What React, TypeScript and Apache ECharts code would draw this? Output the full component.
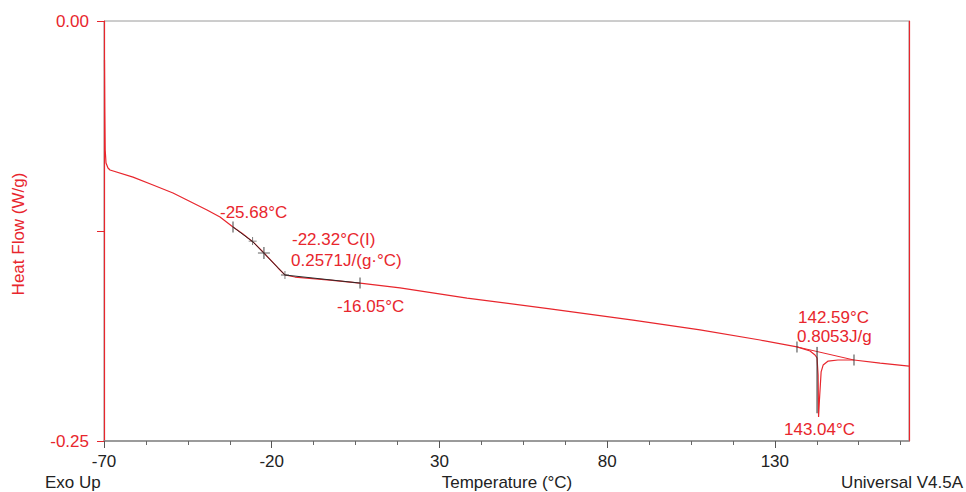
import React, { useEffect, useRef } from "react";
import * as echarts from "echarts";

// Temperature (°C) and heat flow (W/g)
const temperature = [
  -69.85, -69.76, -69.64, -69.4, -68.81, -68.21, -61.35, -55.39, -49.43, -45.25,
  -39.29, -35.41, -31.54, -28.56, -25.58, -22.0, -18.12, -16.03, -13.05, -2.62,
  6.33, 18.25, 38.23, 62.97, 87.72, 107.7, 125.6, 136.6, 140.5, 141.99,
  142.59, 142.9, 143.04, 143.3, 143.8, 144.4, 145.9, 148.8, 153.6, 161.4, 170.0,
];
const heatFlow = [
  -0.0232, -0.053, -0.0768, -0.0845, -0.0875, -0.0887, -0.0929, -0.0976, -0.1024, -0.1065,
  -0.1125, -0.1167, -0.1226, -0.1268, -0.1315, -0.1387, -0.147, -0.1512, -0.1524, -0.1542,
  -0.156, -0.1589, -0.1649, -0.1714, -0.178, -0.1839, -0.1899, -0.194, -0.1964, -0.1988,
  -0.2006, -0.2107, -0.2357, -0.2256, -0.2089, -0.2048, -0.2024, -0.2018, -0.2018, -0.2036, -0.2054,
];

// Glass-transition tangent construction
const tangentT = [-31.54, -25.58, -16.03, 6.33];
const tangentHF = [-0.1226, -0.1315, -0.1512, -0.156];
// Analysis limit ticks
const limitT = [-31.54, 6.33, 136.6, 153.6];
const limitHF = [-0.1226, -0.156, -0.194, -0.2018];
// Onset / midpoint / end crosses
const crossT = [-25.68, -22.32, -16.05];
const crossHF = [-0.131, -0.1381, -0.1512];
const crossSize = [8, 12, 8];
// Melting peak integration baseline and onset line
const baselineT = [136.6, 153.6];
const baselineHF = [-0.194, -0.2018];
const onsetLineT = [142.59, 142.59];
const onsetLineHF = [-0.194, -0.2335];

// Axis ticks
const xTickValues = [-70, -20, 30, 80, 130];
const xMinorTickValues = [
  -57.5, -45, -32.5, -7.5, 5, 17.5, 42.5, 55, 67.5, 92.5, 105, 117.5, 142.5, 155, 167.5,
];
const yTickValues = [0, -0.125, -0.25];
const yTickLabels = ["0.00", "", "-0.25"];

// Annotation texts
const annotationTexts = [
  "-25.68°C",
  "-22.32°C(I)",
  "0.2571J/(g·°C)",
  "-16.05°C",
  "142.59°C",
  "0.8053J/g",
  "143.04°C",
];

const RED = "#e8262d";
const DARK = "#2a2a2a";
const FONT = "'Liberation Sans', Arial, sans-serif";
const FS = 17;

const zip = (a: number[], b: number[]) => a.map((v, i) => [v, b[i]]);

export default function App() {
  const ref = useRef<HTMLDivElement>(null);

  useEffect(() => {
    if (!ref.current) return;
    const chart = echarts.init(ref.current, undefined, { renderer: "svg" });

    const annPos: [number, number][] = [
      [220, 212],
      [292, 239],
      [291, 260],
      [337, 306],
      [798, 317],
      [797, 336],
      [784, 429],
    ];

    const text = (t: string, x: number, y: number, fill: string, align = "left", rotation = 0) => ({
      type: "text",
      x,
      y,
      rotation,
      silent: true,
      style: {
        text: t,
        fill,
        fontSize: FS,
        fontFamily: FONT,
        align,
        verticalAlign: "middle",
      },
    });

    chart.setOption({
      animation: false,
      backgroundColor: "#ffffff",
      grid: {
        left: 104,
        top: 21,
        right: 57,
        bottom: 51,
        show: true,
        borderColor: "#9a9a9a",
        borderWidth: 1,
        containLabel: false,
      },
      xAxis: [
        {
          type: "value",
          min: -70,
          max: 170,
          position: "bottom",
          axisLine: { show: true, onZero: false, lineStyle: { color: "#8a8a8a", width: 1.5 } },
          axisTick: {
            show: true,
            customValues: xTickValues,
            length: 7,
            lineStyle: { color: "#555" },
          },
          axisLabel: {
            customValues: xTickValues,
            margin: 12,
            color: "#222",
            fontSize: FS,
            fontFamily: FONT,
          },
          splitLine: { show: false },
        },
        {
          type: "value",
          min: -70,
          max: 170,
          position: "bottom",
          axisLine: { show: false, onZero: false },
          axisTick: {
            show: true,
            customValues: xMinorTickValues,
            length: 4,
            lineStyle: { color: "#666" },
          },
          axisLabel: { show: false },
          splitLine: { show: false },
        },
      ],
      yAxis: [
        {
          type: "value",
          min: -0.25,
          max: 0,
          interval: 0.125,
          axisLine: { show: true, onZero: false, lineStyle: { color: RED, width: 1.2 } },
          axisTick: { show: true, length: 7, lineStyle: { color: RED } },
          axisLabel: {
            margin: 15,
            color: RED,
            fontSize: FS,
            fontFamily: FONT,
            formatter: (v: number) => {
              const i = yTickValues.findIndex((t) => Math.abs(t - v) < 1e-9);
              return i >= 0 ? yTickLabels[i] : "";
            },
          },
          splitLine: { show: false },
        },
        {
          type: "value",
          min: -0.25,
          max: 0,
          position: "right",
          axisLine: { show: true, onZero: false, lineStyle: { color: RED, width: 1.2 } },
          axisTick: { show: false },
          axisLabel: { show: false },
          splitLine: { show: false },
        },
      ],
      series: [
        {
          type: "line",
          data: zip(temperature, heatFlow),
          symbol: "none",
          lineStyle: { color: RED, width: 1.2 },
          z: 2,
        },
        {
          type: "line",
          data: zip(tangentT, tangentHF),
          symbol: "none",
          lineStyle: { color: DARK, width: 1 },
          z: 3,
        },
        {
          type: "line",
          data: zip(baselineT, baselineHF),
          symbol: "none",
          lineStyle: { color: RED, width: 1 },
          z: 2,
        },
        {
          type: "line",
          data: zip(onsetLineT, onsetLineHF),
          symbol: "none",
          lineStyle: { color: DARK, width: 1 },
          z: 3,
        },
        {
          type: "scatter",
          data: zip(limitT, limitHF),
          symbol: "rect",
          symbolSize: [1.2, 11],
          itemStyle: { color: "#3a3a3a" },
          z: 4,
        },
        {
          type: "scatter",
          data: zip(crossT, crossHF).map((d, i) => ({ value: d, symbolSize: crossSize[i] })),
          symbol: "path://M4.5,0h1v10h-1zM0,4.5h10v1h-10z",
          itemStyle: { color: "#3a3a3a" },
          z: 4,
        },
      ],
      graphic: [
        ...annotationTexts.map((t, i) => text(t, annPos[i][0], annPos[i][1], RED)),
        text("Heat Flow (W/g)", 18, 234, RED, "center", Math.PI / 2),
        text("Temperature (°C)", 507, 482, "#222", "center"),
        text("Exo Up", 45, 482, "#222", "left"),
        text("Universal V4.5A", 963, 482, "#222", "right"),
      ],
    });

    return () => chart.dispose();
  }, []);

  return (
    <div
      ref={ref}
      style={{ position: "fixed", left: 0, top: 0, width: 966, height: 492 }}
    />
  );
}
